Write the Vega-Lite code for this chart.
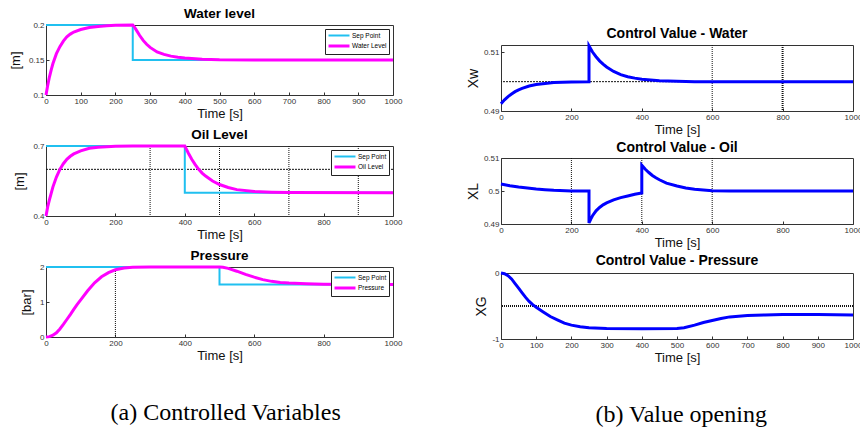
{
  "$schema": "https://vega.github.io/schema/vega-lite/v6.json",
  "background": "white",
  "padding": {"left": 8, "top": 6, "right": 0, "bottom": 0},
  "datasets": {
    "water": [
      {"t": 0, "v": 0.2, "s": "Sep Point"}, {"t": 250, "v": 0.2, "s": "Sep Point"}, {"t": 250, "v": 0.15, "s": "Sep Point"}, {"t": 1000, "v": 0.15, "s": "Sep Point"},
      {"t": 0, "v": 0.1, "s": "Water Level"}, {"t": 5, "v": 0.114, "s": "Water Level"}, {"t": 10, "v": 0.126, "s": "Water Level"}, {"t": 15, "v": 0.136, "s": "Water Level"}, {"t": 20, "v": 0.145, "s": "Water Level"}, {"t": 30, "v": 0.159, "s": "Water Level"}, {"t": 40, "v": 0.169, "s": "Water Level"}, {"t": 50, "v": 0.177, "s": "Water Level"}, {"t": 60, "v": 0.183, "s": "Water Level"}, {"t": 70, "v": 0.187, "s": "Water Level"}, {"t": 80, "v": 0.19, "s": "Water Level"}, {"t": 100, "v": 0.1935, "s": "Water Level"}, {"t": 125, "v": 0.1965, "s": "Water Level"}, {"t": 150, "v": 0.198, "s": "Water Level"}, {"t": 175, "v": 0.199, "s": "Water Level"}, {"t": 200, "v": 0.1995, "s": "Water Level"}, {"t": 250, "v": 0.2, "s": "Water Level"}, {"t": 255, "v": 0.197, "s": "Water Level"}, {"t": 260, "v": 0.193, "s": "Water Level"}, {"t": 270, "v": 0.185, "s": "Water Level"}, {"t": 280, "v": 0.178, "s": "Water Level"}, {"t": 290, "v": 0.1725, "s": "Water Level"}, {"t": 300, "v": 0.168, "s": "Water Level"}, {"t": 320, "v": 0.1615, "s": "Water Level"}, {"t": 340, "v": 0.158, "s": "Water Level"}, {"t": 360, "v": 0.1555, "s": "Water Level"}, {"t": 380, "v": 0.154, "s": "Water Level"}, {"t": 400, "v": 0.153, "s": "Water Level"}, {"t": 450, "v": 0.1512, "s": "Water Level"}, {"t": 500, "v": 0.1503, "s": "Water Level"}, {"t": 600, "v": 0.15, "s": "Water Level"}, {"t": 1000, "v": 0.15, "s": "Water Level"}
    ],
    "oil": [
      {"t": 0, "v": 0.7, "s": "Sep Point"}, {"t": 400, "v": 0.7, "s": "Sep Point"}, {"t": 400, "v": 0.5, "s": "Sep Point"}, {"t": 1000, "v": 0.5, "s": "Sep Point"},
      {"t": 0, "v": 0.4, "s": "Oil Level"}, {"t": 5, "v": 0.44, "s": "Oil Level"}, {"t": 10, "v": 0.47, "s": "Oil Level"}, {"t": 20, "v": 0.525, "s": "Oil Level"}, {"t": 30, "v": 0.567, "s": "Oil Level"}, {"t": 40, "v": 0.6, "s": "Oil Level"}, {"t": 50, "v": 0.624, "s": "Oil Level"}, {"t": 60, "v": 0.643, "s": "Oil Level"}, {"t": 70, "v": 0.656, "s": "Oil Level"}, {"t": 80, "v": 0.666, "s": "Oil Level"}, {"t": 100, "v": 0.679, "s": "Oil Level"}, {"t": 125, "v": 0.69, "s": "Oil Level"}, {"t": 150, "v": 0.695, "s": "Oil Level"}, {"t": 200, "v": 0.699, "s": "Oil Level"}, {"t": 250, "v": 0.7, "s": "Oil Level"}, {"t": 400, "v": 0.7, "s": "Oil Level"}, {"t": 410, "v": 0.67, "s": "Oil Level"}, {"t": 420, "v": 0.643, "s": "Oil Level"}, {"t": 430, "v": 0.62, "s": "Oil Level"}, {"t": 440, "v": 0.6, "s": "Oil Level"}, {"t": 450, "v": 0.584, "s": "Oil Level"}, {"t": 460, "v": 0.571, "s": "Oil Level"}, {"t": 480, "v": 0.55, "s": "Oil Level"}, {"t": 500, "v": 0.535, "s": "Oil Level"}, {"t": 525, "v": 0.522, "s": "Oil Level"}, {"t": 550, "v": 0.513, "s": "Oil Level"}, {"t": 600, "v": 0.505, "s": "Oil Level"}, {"t": 650, "v": 0.502, "s": "Oil Level"}, {"t": 700, "v": 0.5005, "s": "Oil Level"}, {"t": 1000, "v": 0.5, "s": "Oil Level"}
    ],
    "pressure": [
      {"t": 0, "v": 2, "s": "Sep Point"}, {"t": 500, "v": 2, "s": "Sep Point"}, {"t": 500, "v": 1.5, "s": "Sep Point"}, {"t": 1000, "v": 1.5, "s": "Sep Point"},
      {"t": 0, "v": 0, "s": "Pressure"}, {"t": 10, "v": 0.01, "s": "Pressure"}, {"t": 20, "v": 0.05, "s": "Pressure"}, {"t": 30, "v": 0.12, "s": "Pressure"}, {"t": 40, "v": 0.23, "s": "Pressure"}, {"t": 50, "v": 0.36, "s": "Pressure"}, {"t": 60, "v": 0.5, "s": "Pressure"}, {"t": 70, "v": 0.64, "s": "Pressure"}, {"t": 80, "v": 0.79, "s": "Pressure"}, {"t": 90, "v": 0.93, "s": "Pressure"}, {"t": 100, "v": 1.06, "s": "Pressure"}, {"t": 120, "v": 1.32, "s": "Pressure"}, {"t": 140, "v": 1.55, "s": "Pressure"}, {"t": 160, "v": 1.72, "s": "Pressure"}, {"t": 180, "v": 1.84, "s": "Pressure"}, {"t": 200, "v": 1.92, "s": "Pressure"}, {"t": 225, "v": 1.97, "s": "Pressure"}, {"t": 250, "v": 1.99, "s": "Pressure"}, {"t": 300, "v": 2.0, "s": "Pressure"}, {"t": 500, "v": 2.0, "s": "Pressure"}, {"t": 510, "v": 1.99, "s": "Pressure"}, {"t": 525, "v": 1.96, "s": "Pressure"}, {"t": 550, "v": 1.88, "s": "Pressure"}, {"t": 575, "v": 1.79, "s": "Pressure"}, {"t": 600, "v": 1.71, "s": "Pressure"}, {"t": 625, "v": 1.64, "s": "Pressure"}, {"t": 650, "v": 1.59, "s": "Pressure"}, {"t": 675, "v": 1.56, "s": "Pressure"}, {"t": 700, "v": 1.54, "s": "Pressure"}, {"t": 750, "v": 1.52, "s": "Pressure"}, {"t": 800, "v": 1.51, "s": "Pressure"}, {"t": 900, "v": 1.5, "s": "Pressure"}, {"t": 1000, "v": 1.5, "s": "Pressure"}
    ],
    "cvw": [
      {"t": 0, "v": 0.4925}, {"t": 10, "v": 0.4938}, {"t": 20, "v": 0.4949}, {"t": 30, "v": 0.4958}, {"t": 40, "v": 0.4966}, {"t": 50, "v": 0.4972}, {"t": 60, "v": 0.4977}, {"t": 80, "v": 0.4985}, {"t": 100, "v": 0.499}, {"t": 125, "v": 0.4994}, {"t": 150, "v": 0.4997}, {"t": 200, "v": 0.4999}, {"t": 250, "v": 0.5}, {"t": 250, "v": 0.5122}, {"t": 260, "v": 0.5101}, {"t": 270, "v": 0.5085}, {"t": 280, "v": 0.5071}, {"t": 290, "v": 0.506}, {"t": 300, "v": 0.505}, {"t": 320, "v": 0.5035}, {"t": 340, "v": 0.5024}, {"t": 360, "v": 0.5017}, {"t": 380, "v": 0.5012}, {"t": 400, "v": 0.5008}, {"t": 450, "v": 0.5003}, {"t": 500, "v": 0.5001}, {"t": 550, "v": 0.5}, {"t": 1000, "v": 0.5}
    ],
    "cvo": [
      {"t": 0, "v": 0.5021}, {"t": 25, "v": 0.5016}, {"t": 50, "v": 0.5012}, {"t": 75, "v": 0.5009}, {"t": 100, "v": 0.5006}, {"t": 125, "v": 0.5004}, {"t": 150, "v": 0.5002}, {"t": 200, "v": 0.5}, {"t": 250, "v": 0.5}, {"t": 250, "v": 0.4903}, {"t": 255, "v": 0.4915}, {"t": 260, "v": 0.4925}, {"t": 270, "v": 0.494}, {"t": 280, "v": 0.495}, {"t": 290, "v": 0.4958}, {"t": 300, "v": 0.4964}, {"t": 320, "v": 0.4973}, {"t": 340, "v": 0.498}, {"t": 360, "v": 0.4985}, {"t": 380, "v": 0.499}, {"t": 400, "v": 0.4994}, {"t": 400, "v": 0.5078}, {"t": 410, "v": 0.5066}, {"t": 420, "v": 0.5056}, {"t": 430, "v": 0.5047}, {"t": 440, "v": 0.504}, {"t": 450, "v": 0.5034}, {"t": 470, "v": 0.5024}, {"t": 500, "v": 0.5015}, {"t": 525, "v": 0.5009}, {"t": 550, "v": 0.5005}, {"t": 600, "v": 0.5001}, {"t": 650, "v": 0.5}, {"t": 1000, "v": 0.5}
    ],
    "cvp": [
      {"t": 0, "v": 0}, {"t": 10, "v": -0.01}, {"t": 20, "v": -0.04}, {"t": 30, "v": -0.09}, {"t": 40, "v": -0.16}, {"t": 50, "v": -0.23}, {"t": 60, "v": -0.3}, {"t": 70, "v": -0.37}, {"t": 80, "v": -0.43}, {"t": 90, "v": -0.48}, {"t": 100, "v": -0.52}, {"t": 120, "v": -0.59}, {"t": 140, "v": -0.66}, {"t": 160, "v": -0.71}, {"t": 180, "v": -0.76}, {"t": 200, "v": -0.79}, {"t": 225, "v": -0.815}, {"t": 250, "v": -0.83}, {"t": 300, "v": -0.84}, {"t": 400, "v": -0.845}, {"t": 500, "v": -0.84}, {"t": 520, "v": -0.83}, {"t": 550, "v": -0.79}, {"t": 575, "v": -0.75}, {"t": 600, "v": -0.72}, {"t": 625, "v": -0.69}, {"t": 650, "v": -0.665}, {"t": 700, "v": -0.645}, {"t": 750, "v": -0.635}, {"t": 800, "v": -0.63}, {"t": 900, "v": -0.63}, {"t": 1000, "v": -0.635}
    ]
  },
  "hconcat": [
    {
      "title": {"text": "(a) Controlled Variables", "orient": "bottom", "anchor": "middle", "font": "Liberation Serif", "fontSize": 24, "fontWeight": "normal", "offset": 38, "dx": 20},
      "spacing": 6,
      "resolve": {"scale": {"color": "independent", "strokeWidth": "independent"}, "legend": {"color": "independent", "strokeWidth": "independent"}},
      "vconcat": [
        {
          "width": 347, "height": 70,
          "title": "Water level",
          "layer": [
            {
              "data": {"name": "water"},
              "mark": {"type": "line"},
              "encoding": {
                "x": {"field": "t", "type": "quantitative", "scale": {"domain": [0, 1000], "nice": false}, "axis": {"values": [0,100,200,300,400,500,600,700,800,900,1000], "title": "Time [s]"}},
                "y": {"field": "v", "type": "quantitative", "scale": {"domain": [0.1, 0.2], "nice": false, "zero": false}, "axis": {"values": [0.1, 0.15, 0.2], "title": "[m]"}},
                "color": {"field": "s", "type": "nominal", "scale": {"domain": ["Sep Point", "Water Level"], "range": ["#20c0f0", "#ff00ff"]}, "legend": {"title": null}},
                "strokeWidth": {"field": "s", "type": "nominal", "scale": {"domain": ["Sep Point", "Water Level"], "range": [2, 3]}, "legend": null}
              }
            }
          ]
        },
        {
          "width": 347, "height": 70,
          "title": "Oil Level",
          "layer": [
            {
              "data": {"values": [{"x": 300}, {"x": 500}, {"x": 700}, {"x": 900}]},
              "mark": {"type": "rule", "color": "#111", "strokeDash": [1, 1], "strokeWidth": 1},
              "encoding": {"x": {"field": "x", "type": "quantitative"}}
            },
            {
              "data": {"values": [{"y": 0.6}]},
              "mark": {"type": "rule", "color": "#111", "strokeDash": [2, 1], "strokeWidth": 1},
              "encoding": {"y": {"field": "y", "type": "quantitative"}}
            },
            {
              "data": {"name": "oil"},
              "mark": {"type": "line"},
              "encoding": {
                "x": {"field": "t", "type": "quantitative", "scale": {"domain": [0, 1000], "nice": false}, "axis": {"values": [0,100,200,300,400,500,600,700,800,900,1000], "title": "Time [s]"}},
                "y": {"field": "v", "type": "quantitative", "scale": {"domain": [0.4, 0.7], "nice": false, "zero": false}, "axis": {"values": [0.4, 0.5, 0.6, 0.7], "title": "[m]"}},
                "color": {"field": "s", "type": "nominal", "scale": {"domain": ["Sep Point", "Oil Level"], "range": ["#20c0f0", "#ff00ff"]}, "legend": {"title": null}},
                "strokeWidth": {"field": "s", "type": "nominal", "scale": {"domain": ["Sep Point", "Oil Level"], "range": [2, 3]}, "legend": null}
              }
            }
          ]
        },
        {
          "width": 347, "height": 70,
          "title": "Pressure",
          "layer": [
            {
              "data": {"values": [{"x": 200}]},
              "mark": {"type": "rule", "color": "#111", "strokeDash": [1, 1], "strokeWidth": 1},
              "encoding": {"x": {"field": "x", "type": "quantitative"}}
            },
            {
              "data": {"name": "pressure"},
              "mark": {"type": "line"},
              "encoding": {
                "x": {"field": "t", "type": "quantitative", "scale": {"domain": [0, 1000], "nice": false}, "axis": {"values": [0,100,200,300,400,500,600,700,800,900,1000], "title": "Time [s]"}},
                "y": {"field": "v", "type": "quantitative", "scale": {"domain": [0, 2], "nice": false}, "axis": {"values": [0, 1, 2], "title": "[bar]"}},
                "color": {"field": "s", "type": "nominal", "scale": {"domain": ["Sep Point", "Pressure"], "range": ["#20c0f0", "#ff00ff"]}, "legend": {"title": null}},
                "strokeWidth": {"field": "s", "type": "nominal", "scale": {"domain": ["Sep Point", "Pressure"], "range": [2, 3]}, "legend": null}
              }
            }
          ]
        }
      ]
    },
    {
      "title": {"text": "(b) Value opening", "orient": "bottom", "anchor": "middle", "font": "Liberation Serif", "fontSize": 24, "fontWeight": "normal", "offset": 38, "dx": 17},
      "spacing": -28,
      "vconcat": [
        {
          "width": 352, "height": 0,
          "view": {"stroke": null},
          "data": {"values": []},
          "mark": {"type": "rule"},
          "encoding": {}
        },
        {
          "spacing": 3,
          "vconcat": [
            {
              "width": 352, "height": 66,
              "title": {"text": "Control Value - Water", "fontSize": 14},
              "layer": [
                {
                  "data": {"values": [{"x": 600, "w": 1}, {"x": 800, "w": 2}]},
                  "mark": {"type": "rule", "color": "#111", "strokeDash": [1, 1]},
                  "encoding": {"x": {"field": "x", "type": "quantitative"}, "strokeWidth": {"field": "w", "type": "quantitative", "scale": null}}
                },
                {
                  "data": {"values": [{"y": 0.5}]},
                  "mark": {"type": "rule", "color": "#111", "strokeDash": [2, 1], "strokeWidth": 1},
                  "encoding": {"y": {"field": "y", "type": "quantitative"}}
                },
                {
                  "data": {"name": "cvw"},
                  "mark": {"type": "line", "color": "#0000ff", "strokeWidth": 3},
                  "encoding": {
                    "x": {"field": "t", "type": "quantitative", "scale": {"domain": [0, 1000], "nice": false}, "axis": {"values": [0,100,200,300,400,500,600,700,800,900,1000], "title": "Time [s]"}},
                    "y": {"field": "v", "type": "quantitative", "scale": {"domain": [0.49, 0.5125], "nice": false, "zero": false}, "axis": {"values": [0.49, 0.5, 0.51], "title": "Xw", "titlePadding": 3, "titleFontSize": 14}}
                  }
                }
              ]
            },
            {
              "width": 352, "height": 66,
              "title": {"text": "Control Value - Oil", "fontSize": 14},
              "layer": [
                {
                  "data": {"values": [{"x": 200}, {"x": 400}, {"x": 600}]},
                  "mark": {"type": "rule", "color": "#111", "strokeDash": [1, 1], "strokeWidth": 1},
                  "encoding": {"x": {"field": "x", "type": "quantitative"}}
                },
                {
                  "data": {"name": "cvo"},
                  "mark": {"type": "line", "color": "#0000ff", "strokeWidth": 3},
                  "encoding": {
                    "x": {"field": "t", "type": "quantitative", "scale": {"domain": [0, 1000], "nice": false}, "axis": {"values": [0,100,200,300,400,500,600,700,800,900,1000], "title": "Time [s]"}},
                    "y": {"field": "v", "type": "quantitative", "scale": {"domain": [0.49, 0.51], "nice": false, "zero": false}, "axis": {"values": [0.49, 0.5, 0.51], "title": "XL", "titlePadding": 3, "titleFontSize": 14}}
                  }
                }
              ]
            },
            {
              "width": 352, "height": 66,
              "title": {"text": "Control Value - Pressure", "fontSize": 14},
              "layer": [
                {
                  "data": {"values": [{"y": -0.5}]},
                  "mark": {"type": "rule", "color": "#111", "strokeDash": [1, 1], "strokeWidth": 2},
                  "encoding": {"y": {"field": "y", "type": "quantitative"}}
                },
                {
                  "data": {"name": "cvp"},
                  "mark": {"type": "line", "color": "#0000ff", "strokeWidth": 3},
                  "encoding": {
                    "x": {"field": "t", "type": "quantitative", "scale": {"domain": [0, 1000], "nice": false}, "axis": {"values": [0,100,200,300,400,500,600,700,800,900,1000], "title": "Time [s]"}},
                    "y": {"field": "v", "type": "quantitative", "scale": {"domain": [-1, 0], "nice": false}, "axis": {"values": [-1, -0.5, 0], "title": "XG", "titlePadding": 3, "titleFontSize": 14}}
                  }
                }
              ]
            }
          ]
        }
      ]
    }
  ],
  "spacing": 62,
  "config": {
    "font": "Liberation Sans",
    "view": {"stroke": "#333", "strokeWidth": 1},
    "axis": {"grid": false, "domain": false, "labelFont": "Liberation Sans", "labelFontSize": 8, "labelColor": "#333", "tickColor": "#333", "tickSize": -3, "labelPadding": 5, "labelOverlap": false, "labelFlush": false, "labelBound": false, "labelExpr": "'' + datum.value", "titleFont": "Liberation Sans", "titleFontSize": 13, "titleFontWeight": "normal", "titleColor": "#111", "titlePadding": 2},
    "axisY": {"titlePadding": 6},
    "title": {"font": "Liberation Sans", "fontSize": 13.5, "fontWeight": "bold", "offset": -1, "color": "#000"},
    "legend": {"orient": "top-right", "offset": 4, "strokeColor": "#222", "fillColor": "white", "padding": 2, "labelFontSize": 6.5, "labelFont": "Liberation Sans", "symbolType": "M-1,0H5", "symbolSize": 49, "symbolStrokeWidth": 2.5, "rowPadding": 0, "labelOffset": 15, "cornerRadius": 0}
  }
}
